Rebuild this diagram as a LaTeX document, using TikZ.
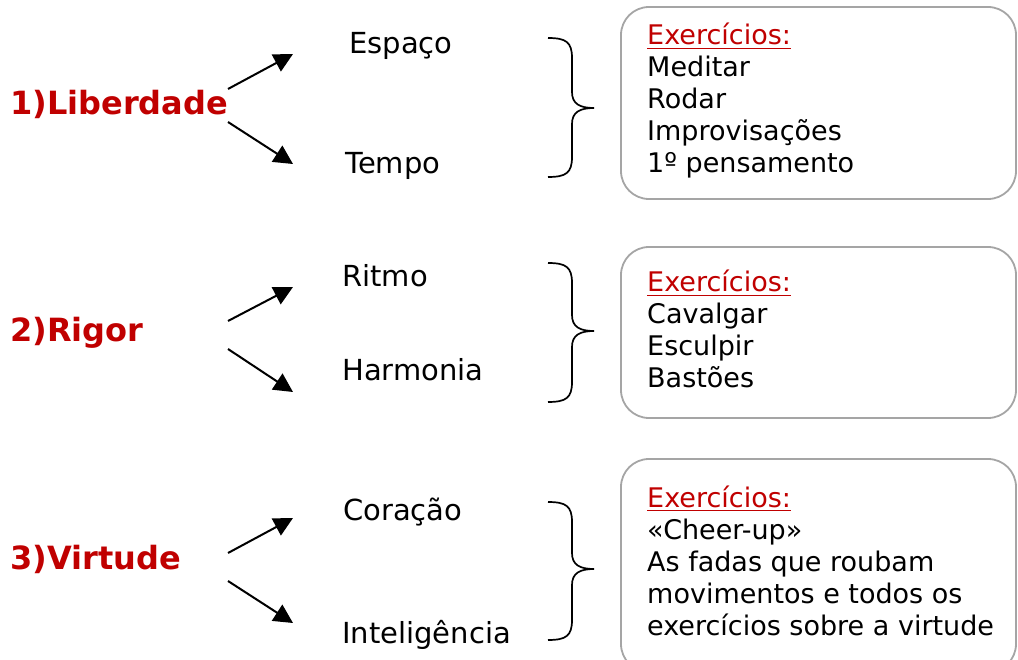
\documentclass[tikz,border=0pt]{standalone}
\usepackage{fontspec}
\setmainfont{DejaVu Sans}
\newfontfamily\bodyfont{DejaVu Sans}
\newfontfamily\headfont{DejaVu Sans}
\usetikzlibrary{arrows.meta}
\definecolor{tred}{RGB}{192,0,0}
\definecolor{bgray}{RGB}{165,165,165}
\newcommand\mybrace[3]{%
  \draw[brc] (548,#1) .. controls (566,#1) and (572,{#1+4}) .. (572,{#1+20})
    -- (572,{#2-16}) .. controls (572,{#2-4}) and (580,#2) .. (594,#2)
    .. controls (580,#2) and (572,{#2+4}) .. (572,{#2+16})
    -- (572,{#3-20}) .. controls (572,{#3-4}) and (566,#3) .. (548,#3);}
\tikzset{
  titletext/.style={font=\headfont\bfseries\fontsize{32}{38}\selectfont, text=tred, anchor=base west, inner sep=0pt},
  lbl/.style={font=\bodyfont\fontsize{27}{32}\selectfont, anchor=base west, inner sep=0pt},
  midlbl/.style={font=\bodyfont\fontsize{29}{34}\selectfont, anchor=base west, inner sep=0pt},
  extitle/.style={lbl, text=tred},
  arr/.style={line width=2pt, -{Triangle[length=19pt,width=19pt]}},
  boxs/.style={draw=bgray, line width=1.8pt, rounded corners=28pt},
  brc/.style={line width=1.7pt},
  uline/.style={draw=tred, line width=1.3pt}
}
\begin{document}
\begin{tikzpicture}[x=1pt,y=-1pt]
\useasboundingbox (0,0) rectangle (1018,660);
\clip (0,0) rectangle (1018,660);

% titles
\node[titletext] (t1) at (10,115) {1)Liberdade};
\node[titletext] (t2) at (10,342) {2)Rigor};
\node[titletext] (t3) at (10,569) {3)Virtude};

% arrow coordinates
\coordinate (a1s) at (228,89);  \coordinate (a1e) at (293,54);
\coordinate (b1s) at (228,122); \coordinate (b1e) at (293,164);
\coordinate (a2s) at (228,321); \coordinate (a2e) at (293,287);
\coordinate (b2s) at (228,349); \coordinate (b2e) at (293,392);
\coordinate (a3s) at (228,553); \coordinate (a3e) at (293,518);
\coordinate (b3s) at (228,581); \coordinate (b3e) at (293,623);
\draw[arr] (a1s) -- (a1e);
\draw[arr] (b1s) -- (b1e);
\draw[arr] (a2s) -- (a2e);
\draw[arr] (b2s) -- (b2e);
\draw[arr] (a3s) -- (a3e);
\draw[arr] (b3s) -- (b3e);

% middle labels
\node[midlbl] (espaco) at (349,54) {Espaço};
\node[midlbl] (tempo) at (345,174) {Tempo};
\node[midlbl] (ritmo) at (342,287) {Ritmo};
\node[midlbl] (harmonia) at (342,381) {Harmonia};
\node[midlbl] (coracao) at (343,520) {Coração};
\node[midlbl] (intel) at (342,643) {Inteligência};

% braces
\mybrace{38}{108}{177}
\mybrace{263}{331}{402}
\mybrace{502}{569}{640}

% boxes
\draw[boxs] (621,7) rectangle (1016,199);
\draw[boxs] (621,247) rectangle (1016,418);
\draw[boxs] (621,459) rectangle (1016,672);

% box 1
\node[extitle] (ex1) at (647,45) {Exercícios:};
\draw[uline] ([yshift=-3.5pt]ex1.base west) -- ([yshift=-3.5pt]ex1.base east);
\node[lbl] (m1) at (647,77) {Meditar};
\node[lbl] (m2) at (647,109) {Rodar};
\node[lbl] (m3) at (647,141) {Improvisações};
\node[lbl] (m4) at (647,173) {1º pensamento};

% box 2
\node[extitle] (ex2) at (647,292) {Exercícios:};
\draw[uline] ([yshift=-3.5pt]ex2.base west) -- ([yshift=-3.5pt]ex2.base east);
\node[lbl] (r1) at (647,324) {Cavalgar};
\node[lbl] (r2) at (647,356) {Esculpir};
\node[lbl] (r3) at (647,388) {Bastões};

% box 3
\node[extitle] (ex3) at (647,507) {Exercícios:};
\draw[uline] ([yshift=-3.5pt]ex3.base west) -- ([yshift=-3.5pt]ex3.base east);
\node[lbl] (v1) at (647,539) {«Cheer-up»};
\node[lbl] (v2) at (647,571) {As fadas que roubam};
\node[lbl] (v3) at (647,603) {movimentos e todos os};
\node[lbl] (v4) at (647,635) {exercícios sobre a virtude};
\end{tikzpicture}
\end{document}
